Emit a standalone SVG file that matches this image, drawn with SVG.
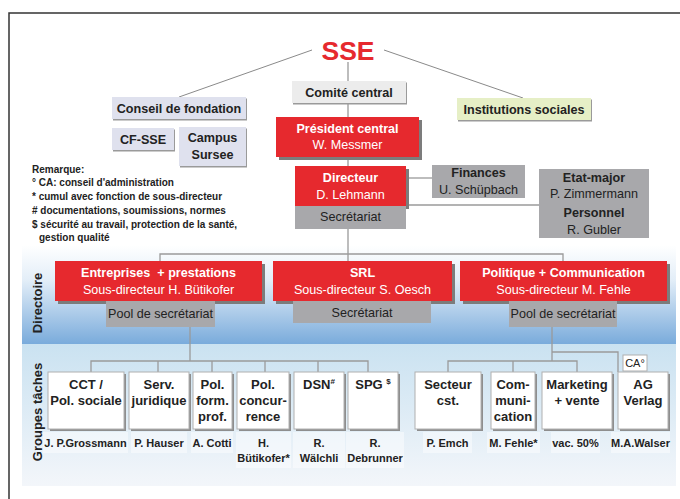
<svg xmlns="http://www.w3.org/2000/svg" width="680" height="499" viewBox="0 0 680 499">
<defs>
<linearGradient id="gDir" x1="0" y1="0" x2="0" y2="1">
<stop offset="0" stop-color="#ffffff"/>
<stop offset="0.35" stop-color="#e3eef8"/>
<stop offset="1" stop-color="#78aadb"/>
</linearGradient>
<linearGradient id="gGrp" x1="0" y1="0" x2="0" y2="1">
<stop offset="0" stop-color="#cae2f1"/>
<stop offset="1" stop-color="#f3f6fa"/>
</linearGradient>
<style>
text{font-family:"Liberation Sans",Arial,Helvetica,sans-serif;fill:#222}
.b{font-weight:bold}
.m{text-anchor:middle}
.w{fill:#fff}
.red{fill:#e6292e}
.sh{fill:#7c7c7c}
.gr{fill:#a8a8ab}
.lt{fill:#dfe1ee}
.bx{fill:#fff;stroke:#b0b0b0;stroke-width:1}
.bsh{fill:#8e8e8e}
.nm{fill:#fff;fill-opacity:0.45}
.f12{font-size:12.6px}
.f13{font-size:13px}
.f11{font-size:11px}
.f10{font-size:10px}
.con{fill:none;stroke:#9a9a9a;stroke-width:1.3}
.diag{fill:none;stroke:#8a8a8a;stroke-width:1}
</style>
</defs>

<path d="M9,499 V13 H680" fill="none" stroke="#333" stroke-width="1.5"/>
<rect x="22" y="245" width="654" height="100" fill="url(#gDir)"/>
<rect x="22" y="344" width="654" height="142" fill="url(#gGrp)"/>

<g id="connectors">
<path class="diag" d="M312,50 L179,97"/>
<path class="diag" d="M384,50 L523,98"/>
<path class="con" d="M348,62 V261"/>
<path class="con" d="M406,178 H432"/>
<path class="con" d="M406,205 H539"/>
<path class="con" d="M160,261 V254 H563 V261"/>
<path class="con" d="M190,327 V361"/>
<path class="con" d="M91,372 V361 H368 V372"/>
<path class="con" d="M158,361 V372 M212,361 V372 M265,361 V372 M318,361 V372"/>
<path class="con" d="M552,327 V361"/>
<path class="con" d="M448,372 V361 H577 V372"/>
<path class="con" d="M513,361 V372"/>
<path class="con" d="M552,352 H618 V372"/>
</g>

<g id="notes">
<text class="b f10" x="32" y="173">Remarque:</text>
<text class="b f10" x="32" y="186">° CA: conseil d'administration</text>
<text class="b f10" x="32" y="200">* cumul avec fonction de sous-directeur</text>
<text class="b f10" x="32" y="214"># documentations, soumissions, normes</text>
<text class="b f10" x="32" y="228">$ sécurité au travail, protection de la santé,</text>
<text class="b f10" x="39" y="241">gestion qualité</text>
</g>

<g id="sse">
<text class="b m" x="348" y="60" font-size="26.5" style="fill:#e6292e">SSE</text>
</g>

<g id="comite">
<rect x="293" y="82.5" width="114" height="22" fill="#9a9a9a"/>
<rect x="292" y="81" width="114" height="22" fill="#ececec"/>
<text class="b m f12" x="349" y="97">Comité central</text>
</g>

<g id="conseil">
<rect x="113" y="98.5" width="134" height="22" fill="#9a9a9a"/>
<rect class="lt" x="112" y="97" width="134" height="22"/>
<text class="b m f12" x="179" y="113">Conseil de fondation</text>
</g>

<g id="cfsse">
<rect x="113" y="129.5" width="62" height="22" fill="#9a9a9a"/>
<rect class="lt" x="112" y="128" width="62" height="22"/>
<text class="b m f12" x="143" y="144">CF-SSE</text>
</g>

<g id="campus">
<rect x="180" y="128.5" width="67" height="39" fill="#9a9a9a"/>
<rect class="lt" x="179" y="127" width="67" height="39"/>
<text class="b m f12" x="212.5" y="142">Campus</text>
<text class="b m f12" x="212.5" y="159">Sursee</text>
</g>

<g id="institutions">
<rect x="458" y="99.5" width="134" height="22" fill="#9a9a9a"/>
<rect x="457" y="98" width="134" height="22" fill="#e6efc6"/>
<text class="b m f12" x="524" y="114">Institutions sociales</text>
</g>

<g id="president">
<rect class="sh" x="279" y="120" width="143" height="40"/>
<rect class="red" x="276" y="117" width="143" height="40"/>
<text class="b m f12 w" x="347.5" y="133">Président central</text>
<text class="m f12 w" x="347.5" y="149">W. Messmer</text>
</g>

<g id="directeur">
<rect class="sh" x="298" y="169" width="111" height="40"/>
<rect class="red" x="295" y="166" width="111" height="40"/>
<rect class="gr" x="295" y="206" width="111" height="23"/>
<text class="b m f12 w" x="350.5" y="182">Directeur</text>
<text class="m f12 w" x="350.5" y="199">D. Lehmann</text>
<text class="m f12" x="350.5" y="221">Secrétariat</text>
</g>

<g id="finances">
<rect class="gr" x="432" y="165" width="93" height="33"/>
<text class="b m f12" x="478.5" y="177">Finances</text>
<text class="m f12" x="478.5" y="194">U. Schüpbach</text>
</g>

<g id="etatmajor">
<rect class="gr" x="539" y="169" width="110" height="69"/>
<text class="b m f12" x="594" y="182">Etat-major</text>
<text class="m f12" x="594" y="198">P. Zimmermann</text>
<text class="b m f12" x="594" y="217">Personnel</text>
<text class="m f12" x="594" y="234">R. Gubler</text>
</g>

<g id="label-directoire">
<text class="b m f13" transform="translate(42,303) rotate(-90)">Directoire</text>
</g>
<g id="label-groupes">
<text class="b m f13" transform="translate(42,412) rotate(-90)">Groupes tâches</text>
</g>

<g id="entreprises">
<rect class="sh" x="58" y="264" width="207" height="40"/>
<rect class="red" x="55" y="261" width="207" height="40"/>
<text class="b m f12 w" x="158.5" y="277">Entreprises&#160; + prestations</text>
<text class="m f12 w" x="158.5" y="294">Sous-directeur H. Bütikofer</text>
<rect class="gr" x="106" y="301" width="109" height="26"/>
<text class="m f12" x="160.5" y="318">Pool de secrétariat</text>
</g>

<g id="srl">
<rect class="sh" x="276" y="264" width="179" height="40"/>
<rect class="red" x="273" y="261" width="179" height="40"/>
<text class="b m f12 w" x="362.5" y="277">SRL</text>
<text class="m f12 w" x="362.5" y="294">Sous-directeur S. Oesch</text>
<rect class="gr" x="293" y="301" width="138" height="22"/>
<text class="m f12" x="362" y="317">Secrétariat</text>
</g>

<g id="politique">
<rect class="sh" x="463" y="264" width="207" height="40"/>
<rect class="red" x="460" y="261" width="207" height="40"/>
<text class="b m f12 w" x="563.5" y="277">Politique + Communication</text>
<text class="m f12 w" x="563.5" y="294">Sous-directeur M. Fehle</text>
<rect class="gr" x="509" y="301" width="108" height="26"/>
<text class="m f12" x="563" y="318">Pool de secrétariat</text>
</g>

<g id="cct">
<rect class="bsh" x="50" y="374" width="76" height="57"/>
<rect class="bx" x="48" y="372" width="76" height="57"/>
<text class="b m f13" x="86" y="389">CCT /</text>
<text class="b m f13" x="86" y="405">Pol. sociale</text>
<rect class="nm" x="43" y="432" width="85" height="21"/>
<text class="b m f11" x="85.5" y="447">J. P.Grossmann</text>
</g>

<g id="serv">
<rect class="bsh" x="131" y="374" width="60" height="57"/>
<rect class="bx" x="129" y="372" width="60" height="57"/>
<text class="b m f13" x="159" y="389">Serv.</text>
<text class="b m f13" x="159" y="405">juridique</text>
<rect class="nm" x="131" y="432" width="56" height="21"/>
<text class="b m f11" x="159" y="447">P. Hauser</text>
</g>

<g id="polform">
<rect class="bsh" x="195" y="374" width="39" height="57"/>
<rect class="bx" x="193" y="372" width="39" height="57"/>
<text class="b m f13" x="212.5" y="389">Pol.</text>
<text class="b m f13" x="212.5" y="405">form.</text>
<text class="b m f13" x="212.5" y="421">prof.</text>
<rect class="nm" x="191" y="432" width="42" height="21"/>
<text class="b m f11" x="212" y="447">A. Cotti</text>
</g>

<g id="polconcur">
<rect class="bsh" x="239" y="374" width="52" height="57"/>
<rect class="bx" x="237" y="372" width="52" height="57"/>
<text class="b m f13" x="263" y="389">Pol.</text>
<text class="b m f13" x="263" y="405">concur-</text>
<text class="b m f13" x="263" y="421">rence</text>
<rect class="nm" x="236" y="432" width="55" height="36"/>
<text class="b m f11" x="263.5" y="447">H.</text>
<text class="b m f11" x="263.5" y="462">Bütikofer*</text>
</g>

<g id="dsn">
<rect class="bsh" x="296" y="374" width="50" height="57"/>
<rect class="bx" x="294" y="372" width="50" height="57"/>
<text class="b m f13" x="319" y="389">DSN<tspan font-size="8" dy="-5">#</tspan></text>
<rect class="nm" x="293" y="432" width="52" height="36"/>
<text class="b m f11" x="319" y="447">R.</text>
<text class="b m f11" x="319" y="462">Wälchli</text>
</g>

<g id="spg">
<rect class="bsh" x="350" y="374" width="50" height="57"/>
<rect class="bx" x="348" y="372" width="50" height="57"/>
<text class="b m f13" x="373" y="389">SPG <tspan font-size="8" dy="-5">$</tspan></text>
<rect class="nm" x="346" y="432" width="58" height="36"/>
<text class="b m f11" x="375" y="447">R.</text>
<text class="b m f11" x="375" y="462">Debrunner</text>
</g>

<g id="secteur">
<rect class="bsh" x="417" y="374" width="66" height="57"/>
<rect class="bx" x="415" y="372" width="66" height="57"/>
<text class="b m f13" x="448" y="389">Secteur</text>
<text class="b m f13" x="448" y="405">cst.</text>
<rect class="nm" x="423" y="432" width="49" height="21"/>
<text class="b m f11" x="447.5" y="447">P. Emch</text>
</g>

<g id="communication">
<rect class="bsh" x="493" y="374" width="44" height="57"/>
<rect class="bx" x="491" y="372" width="44" height="57"/>
<text class="b m f13" x="513" y="389">Com-</text>
<text class="b m f13" x="513" y="405">muni-</text>
<text class="b m f13" x="513" y="421">cation</text>
<rect class="nm" x="487" y="432" width="53" height="21"/>
<text class="b m f11" x="513.5" y="447">M. Fehle*</text>
</g>

<g id="marketing">
<rect class="bsh" x="544" y="374" width="70" height="57"/>
<rect class="bx" x="542" y="372" width="70" height="57"/>
<text class="b m f13" x="577" y="389">Marketing</text>
<text class="b m f13" x="577" y="405">+ vente</text>
<rect class="nm" x="551" y="432" width="49" height="21"/>
<text class="b m f11" x="575.5" y="447">vac. 50%</text>
</g>

<g id="agverlag">
<rect class="bx" x="623" y="355" width="24" height="16"/>
<text class="m f11" x="635" y="367">CA°</text>
<rect class="bsh" x="620" y="374" width="50" height="57"/>
<rect class="bx" x="618" y="372" width="50" height="57"/>
<text class="b m f13" x="643" y="389">AG</text>
<text class="b m f13" x="643" y="405">Verlag</text>
<rect class="nm" x="611" y="432" width="59" height="21"/>
<text class="b m f11" x="640.5" y="447">M.A.Walser</text>
</g>
</svg>
